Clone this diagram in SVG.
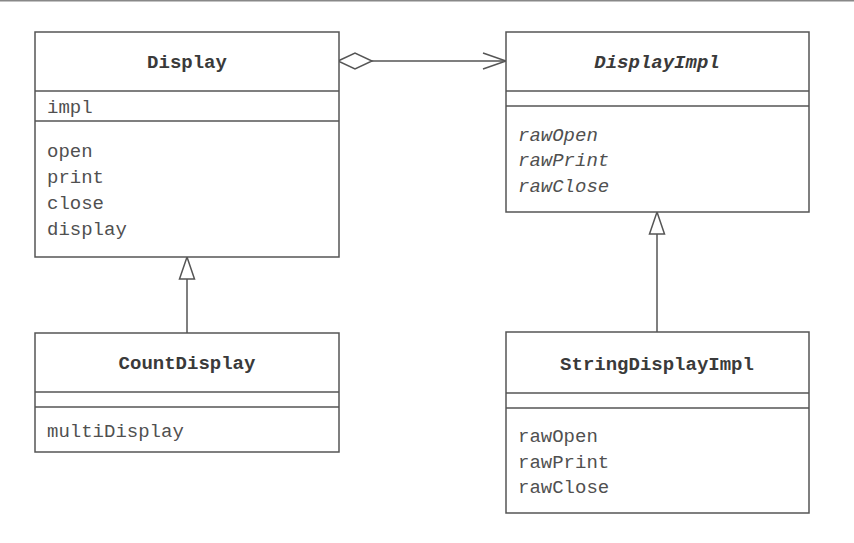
<svg xmlns="http://www.w3.org/2000/svg" width="854" height="543" viewBox="0 0 854 543">
<style>
.box{fill:#fff;stroke:#555;stroke-width:1.5}
.ln{stroke:#555;stroke-width:1.5;fill:none}
.t{font-family:"Liberation Mono","Courier New",monospace;font-size:19px;fill:#505050}
.b{font-weight:bold;text-anchor:middle;fill:#3a3a3a}
.i{font-style:italic}
</style>
<rect x="0" y="0" width="854" height="1.5" fill="#888"/>
<g id="connectors">
<line class="ln" x1="372" y1="61" x2="506" y2="61"/>
<polygon points="338,61 355,53 372,61 355,69" fill="#fff" stroke="#555" stroke-width="1.5"/>
<polyline class="ln" points="483,53 506,61 483,69"/>
<line class="ln" x1="187" y1="279" x2="187" y2="333"/>
<path d="M187,257 L194.5,279 L179.5,279 Z" fill="#fff" stroke="#555" stroke-width="1.5"/>
<line class="ln" x1="657" y1="234" x2="657" y2="332"/>
<path d="M657,212 L664.5,234 L649.5,234 Z" fill="#fff" stroke="#555" stroke-width="1.5"/>
</g>
<g id="Display">
<rect class="box" x="35" y="32" width="304" height="225"/>
<line class="ln" x1="35" y1="91" x2="339" y2="91"/>
<line class="ln" x1="35" y1="121" x2="339" y2="121"/>
<text class="t b" x="187" y="68">Display</text>
<text class="t" x="47" y="113">impl</text>
<text class="t" x="47" y="157">open</text>
<text class="t" x="47" y="183">print</text>
<text class="t" x="47" y="209">close</text>
<text class="t" x="47" y="235">display</text>
</g>
<g id="DisplayImpl">
<rect class="box" x="506" y="32" width="303" height="180"/>
<line class="ln" x1="506" y1="91" x2="809" y2="91"/>
<line class="ln" x1="506" y1="106" x2="809" y2="106"/>
<text class="t b i" x="657" y="68">DisplayImpl</text>
<text class="t i" x="518" y="141">rawOpen</text>
<text class="t i" x="518" y="166">rawPrint</text>
<text class="t i" x="518" y="192">rawClose</text>
</g>
<g id="CountDisplay">
<rect class="box" x="35" y="333" width="304" height="119"/>
<line class="ln" x1="35" y1="392" x2="339" y2="392"/>
<line class="ln" x1="35" y1="407" x2="339" y2="407"/>
<text class="t b" x="187" y="369">CountDisplay</text>
<text class="t" x="47" y="437">multiDisplay</text>
</g>
<g id="StringDisplayImpl">
<rect class="box" x="506" y="332" width="303" height="181"/>
<line class="ln" x1="506" y1="393" x2="809" y2="393"/>
<line class="ln" x1="506" y1="408" x2="809" y2="408"/>
<text class="t b" x="657" y="370">StringDisplayImpl</text>
<text class="t" x="518" y="442">rawOpen</text>
<text class="t" x="518" y="468">rawPrint</text>
<text class="t" x="518" y="493">rawClose</text>
</g>
</svg>
